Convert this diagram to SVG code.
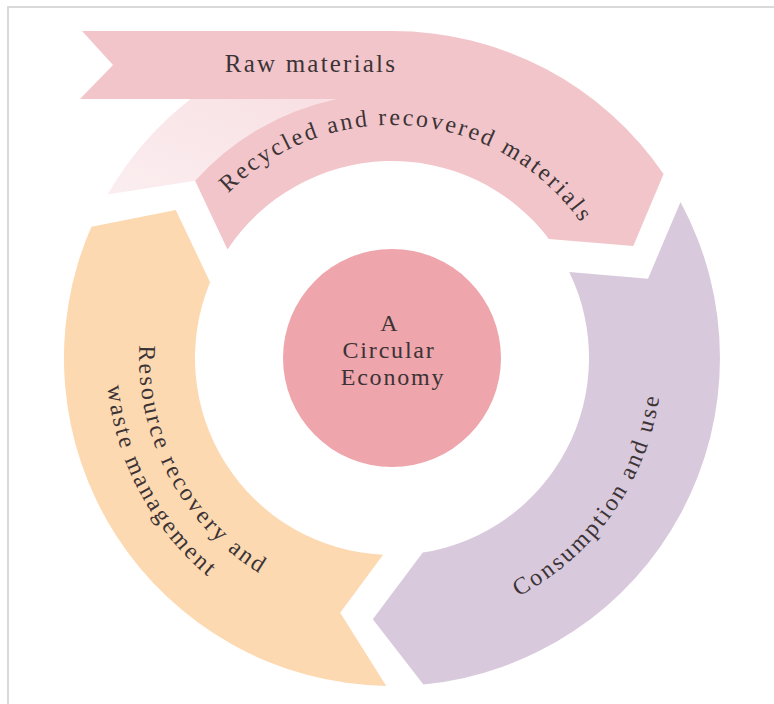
<svg xmlns="http://www.w3.org/2000/svg" width="774" height="704" viewBox="0 0 774 704">
<style>
.lbl{font-family:"Liberation Serif","Times New Roman",serif;fill:#3b3335;font-size:24px;letter-spacing:2.5px}
.pink{fill:#f2c5ca}
.orange{fill:#fdd9b1}
.purple{fill:#d9c9dc}
.core{fill:#eea5ac}
</style>
<defs>
<linearGradient id="fade" x1="1" y1="0" x2="0" y2="1">
<stop offset="0" stop-color="#f8e0e4"/>
<stop offset="1" stop-color="#fbeef0"/>
</linearGradient>
<path id="pRecycled" d="M202,224.9 A231 231 0 0 1 602.3,260"/>
<path id="pConsumption" d="M368.5,627 A270 270 0 0 0 636.7,243.9"/>
<path id="pRes1" d="M177.5,224 A253 253 0 0 0 383.2,610.8"/>
<path id="pRes2" d="M149.5,206.4 A286 286 0 0 0 382,643.8"/>
</defs>
<rect width="774" height="704" fill="#ffffff"/>
<path d="M8,704 L8,7 L774,7" fill="none" stroke="#d9d9d9" stroke-width="2"/>

<g id="fade-arrow">
<path d="M107.6,194.5 A328 328 0 0 1 190.7,99 L336,99 A265 265 0 0 0 195.1,180.7 Z" fill="url(#fade)"/>
</g>

<g id="raw-recycled">
<path class="pink" d="M82,31 L392,31 A328 328 0 0 1 663.6,174.1 L633.3,246 L548.9,238.9 A197 197 0 0 0 227.5,249.6 L195.1,180.7 A265 265 0 0 1 336,99 L80,99 L113,65 Z"/>
<text class="lbl" x="311" y="72" text-anchor="middle" style="font-size:25px;letter-spacing:2.2px">Raw materials</text>
<text class="lbl"><textPath href="#pRecycled" startOffset="50%" text-anchor="middle">Recycled and recovered materials</textPath></text>
</g>

<g id="consumption">
<path class="purple" d="M680.5,202 A328 328 0 0 1 423.4,684.5 L372.8,619.3 L422.8,552.6 A197 197 0 0 0 569.2,271.9 L648,278.7 Z"/>
<text class="lbl"><textPath href="#pConsumption" startOffset="50%" text-anchor="middle">Consumption and use</textPath></text>
</g>

<g id="resource">
<path class="orange" d="M386.3,686 A328 328 0 0 1 91.4,226.7 L175.8,210 L210.1,282.3 A197 197 0 0 0 383.1,554.8 L340.2,612.8 Z"/>
<text class="lbl"><textPath href="#pRes1" startOffset="50%" text-anchor="middle">Resource recovery and</textPath></text>
<text class="lbl"><textPath href="#pRes2" startOffset="50%" text-anchor="middle">waste management</textPath></text>
</g>

<g id="center">
<circle class="core" cx="392" cy="358" r="109"/>
<text class="lbl" text-anchor="middle" style="font-size:24px;letter-spacing:1.8px">
<tspan x="393" y="331">A</tspan>
<tspan x="393" y="358">Circular</tspan>
<tspan x="393" y="385">Economy</tspan>
</text>
</g>
</svg>
